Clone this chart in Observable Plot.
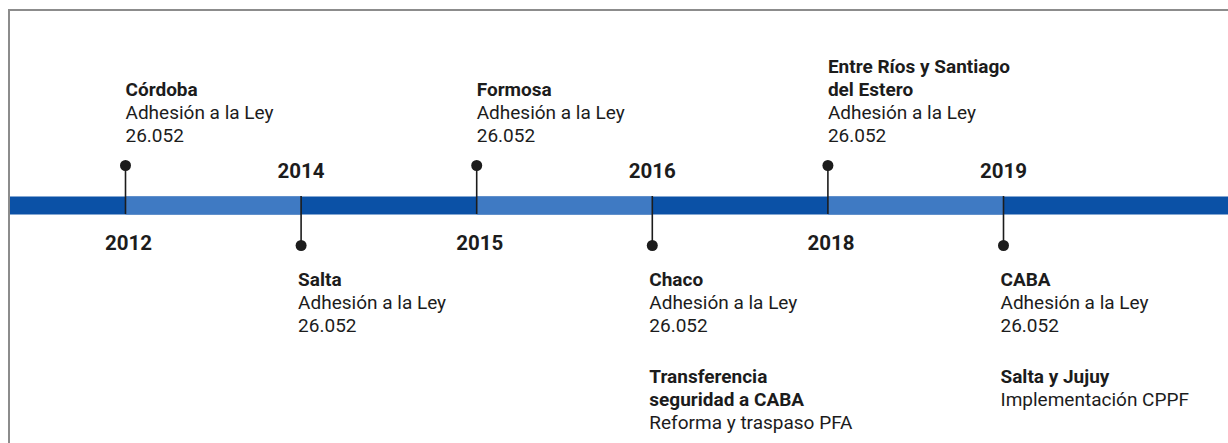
<!DOCTYPE html>
<html>
<head>
<meta charset="utf-8">
<script src="https://cdn.jsdelivr.net/npm/d3@7"></script>
<script src="https://cdn.jsdelivr.net/npm/@observablehq/plot@0.6"></script>
<style>
  html, body { margin: 0; padding: 0; background: #fff; }
  #wrap { position: relative; width: 1228px; height: 443px; overflow: hidden; }
  #border { position: absolute; left: 8px; top: 9px; right: -10px; bottom: -10px;
            border-top: 2px solid #8c8c8c; border-left: 2px solid #8c8c8c; pointer-events: none; }
  svg { display: block; }
</style>
</head>
<body>
<div id="wrap"><div id="border"></div></div>
<script>
// ---- data ----
const years = [2012, 2014, 2015, 2016, 2018, 2019];
const sides = ["up", "down", "up", "down", "up", "down"];
const titles = ["Córdoba", "Salta", "Formosa", "Chaco", "Entre Ríos y Santiago\ndel Estero", "CABA"];
const descriptions = [
  "Adhesión a la Ley\n26.052",
  "Adhesión a la Ley\n26.052",
  "Adhesión a la Ley\n26.052",
  "Adhesión a la Ley\n26.052",
  "Adhesión a la Ley\n26.052",
  "Adhesión a la Ley\n26.052"
];
const extraTitles = ["", "", "", "Transferencia\nseguridad a CABA", "", "Salta y Jujuy"];
const extraDescriptions = ["", "", "", "Reforma y traspaso PFA", "", "Implementación CPPF"];

// ---- table ----
const events = years.map((year, i) => ({
  i, year, side: sides[i], dir: sides[i] === "up" ? 1 : -1,
  title: titles[i], desc: descriptions[i],
  title2: extraTitles[i], desc2: extraDescriptions[i]
}));
const up = events.filter(d => d.side === "up");
const down = events.filter(d => d.side === "down");
const extra = events.filter(d => d.title2);
const segments = up.map(d => ({x1: d.i, x2: d.i + 1}));
const nLines = s => s.split("\n").length;

const DARK = "#0b51a6";
const LIGHT = "#3f7ac3";
const INK = "#1c1c1c";
const FONT = "Roboto, 'Open Sans', sans-serif";
const BAND = 0.225; // half band thickness in y units
const FS = 19;
const LH = 1.21;

const plot = Plot.plot({
  width: 1228,
  height: 443,
  marginLeft: 9,
  marginRight: 0,
  marginTop: 10,
  marginBottom: 0,
  style: { fontFamily: FONT, color: INK, background: "transparent" },
  x: { type: "linear", domain: [0, years.length - 1], range: [125, 1003], axis: null },
  y: { type: "linear", domain: [-1, 1], range: [245, 165], axis: null },
  marks: [
    // timeline band
    Plot.ruleY([0], { stroke: DARK, strokeWidth: 18 }),
    Plot.link(segments, { x1: "x1", x2: "x2", y1: 0, y2: 0, stroke: LIGHT, strokeWidth: 18, strokeLinecap: "butt" }),
    // stems
    Plot.ruleX(up, { x: "i", y1: -BAND, y2: 1, stroke: INK, strokeWidth: 1.6 }),
    Plot.ruleX(down, { x: "i", y1: BAND, y2: -1, stroke: INK, strokeWidth: 1.6 }),
    Plot.dot(events, { x: "i", y: "dir", r: 5.5, fill: INK }),
    // year labels (opposite side of the event)
    Plot.text(up, { x: "i", y: -1, text: d => String(d.year), fontSize: 20.5, fontWeight: "bold", fill: INK, dx: 3, dy: -2 }),
    Plot.text(down, { x: "i", y: 1, text: d => String(d.year), fontSize: 20.5, fontWeight: "bold", fill: INK, dx: 0, dy: 6 }),
    // upper texts
    Plot.text(up, { x: "i", y: 1, text: "desc", textAnchor: "start", lineAnchor: "bottom", lineHeight: LH, fontSize: FS, fill: INK, dy: -24 }),
    Plot.text(up, { x: "i", y: 1, text: "title", textAnchor: "start", lineAnchor: "bottom", lineHeight: LH, fontSize: FS, fontWeight: "bold", fill: INK, dy: -70 }),
    // lower texts
    Plot.text(down, { x: "i", y: -1, text: "title", textAnchor: "start", lineAnchor: "top", lineHeight: LH, fontSize: FS, fontWeight: "bold", fill: INK, dx: -3, dy: 24 }),
    Plot.text(down, { x: "i", y: -1, text: d => "\n".repeat(nLines(d.title)) + d.desc, textAnchor: "start", lineAnchor: "top", lineHeight: LH, fontSize: FS, fill: INK, dx: -3, dy: 24 }),
    Plot.text(extra, { x: "i", y: -1, text: "title2", textAnchor: "start", lineAnchor: "top", lineHeight: LH, fontSize: FS, fontWeight: "bold", fill: INK, dx: -3, dy: 121 }),
    Plot.text(extra, { x: "i", y: -1, text: d => "\n".repeat(nLines(d.title2)) + d.desc2, textAnchor: "start", lineAnchor: "top", lineHeight: LH, fontSize: FS, fill: INK, dx: -3, dy: 121 })
  ]
});
document.getElementById("wrap").prepend(plot);
</script>
</body>
</html>
